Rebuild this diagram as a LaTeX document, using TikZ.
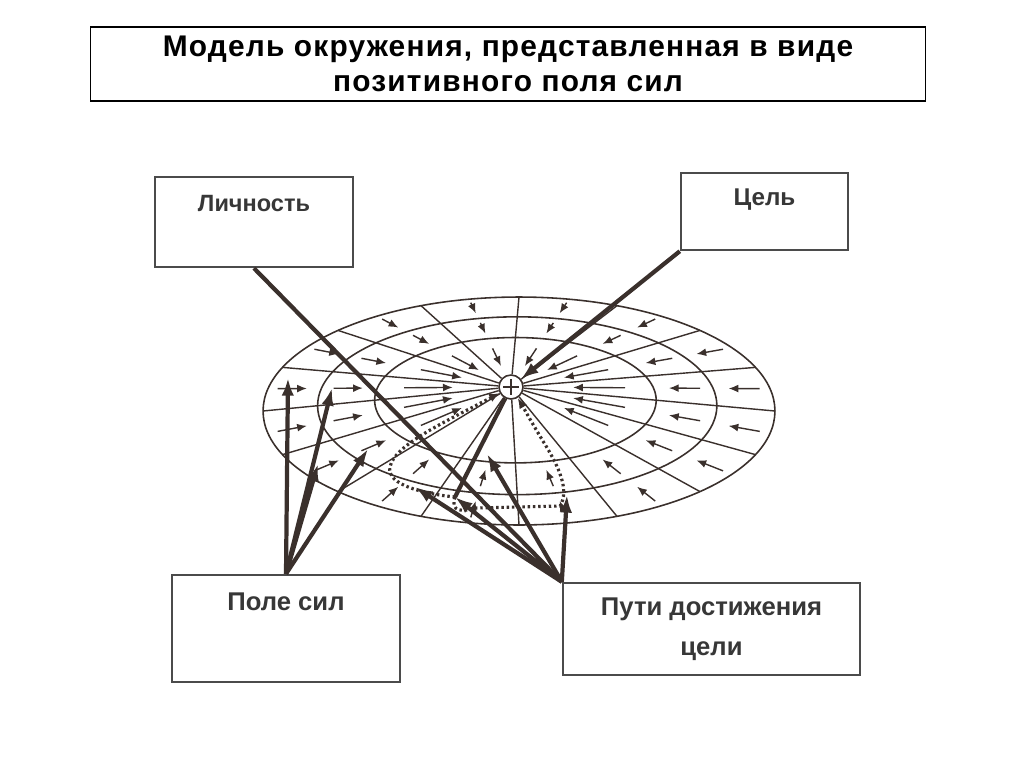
\documentclass[tikz,border=0pt]{standalone}
\usepackage{fontspec}
\setmainfont{Liberation Sans}
\newfontfamily\titlefont[LetterSpace=4]{Liberation Sans}
\usepackage{xcolor}
\definecolor{InkBrown}{RGB}{58,48,44}
\definecolor{BoxGray}{RGB}{75,75,75}
\definecolor{TextGray}{RGB}{55,55,55}
\usepackage{tikz}
\usetikzlibrary{arrows.meta, positioning, calc}
\tikzset{
  % Title frame
  titlebox/.style={
    rectangle, draw=black, line width=0.6pt, fill=white,
    minimum width=16.72cm, minimum height=1.48cm,
    align=center, inner sep=0pt,
    font=\titlefont\fontsize{17}{20}\selectfont\bfseries
  },
  % Label boxes
  lbox/.style={
    rectangle, draw=BoxGray, line width=1.4pt, fill=white,
    align=center, inner sep=0pt, text=TextGray,
    font=\fontsize{14.6}{22.7}\selectfont\bfseries
  },
  % Field of forces
  ring/.style={draw=InkBrown, line width=0.9pt},
  ray/.style={draw=InkBrown, line width=0.8pt},
  farr/.style={-{Latex[length=5.5pt,width=4.5pt]}, InkBrown, line width=0.8pt},
  dotpath/.style={InkBrown, line width=1.8pt, dash pattern=on 1.4pt off 1.6pt},
  % Connectors
  thk/.style={InkBrown, line width=2.4pt},
  tarr/.style={-{Latex[length=10pt,width=7pt]}, InkBrown, line width=2.4pt},
}

\begin{document}
\begin{tikzpicture}[x=0.02cm, y=-0.02cm]
  \useasboundingbox (0,0) rectangle (1024,768);

  \node[titlebox] (title) at (508,64)
    {Модель окружения, представленная в виде\\позитивного поля сил};

  \node[lbox, minimum width=3.96cm, minimum height=1.8cm,
        font=\fontsize{13.4}{22.7}\selectfont\bfseries,
        text height=0.34cm, text depth=0.78cm] (lich) at (254,222) {Личность};
  \node[lbox, minimum width=3.34cm, minimum height=1.54cm,
        font=\fontsize{13.8}{22.7}\selectfont\bfseries,
        text height=0.35cm, text depth=0.61cm] (tsel) at (764.5,211.5) {Цель};
  \node[lbox, minimum width=4.56cm, minimum height=2.14cm,
        text height=0.37cm, text depth=1.11cm] (pole) at (286,628.5) {Поле сил};
  \node[lbox, minimum width=5.94cm, minimum height=1.84cm]
    (puti) at (711.5,629) {Пути достижения\\цели};

  %% Field
  \node[circle, draw=InkBrown, line width=0.9pt, fill=white,
        minimum size=0.48cm, inner sep=0pt] (ctr) at (511,387) {};
  \draw[ray] ($(ctr)+(-8,0)$) -- ($(ctr)+(8,0)$);
  \draw[ray] ($(ctr)+(0,-8)$) -- ($(ctr)+(0,8)$);

  \foreach \s in {1,0.78,0.55}
    \draw[ring] ({511+8*\s},{387+24*\s})
      ellipse [x radius={5.12cm*\s}, y radius={2.28cm*\s}];

  \foreach \t in {0,22.5,...,337.5}
    \draw[ray] (ctr) -- ({519+256*cos(\t)},{411+114*sin(\t)});

  \foreach \m in {11.25,33.75,...,348.75} {
    \draw[farr] ({511+0.96*(8+256*cos(\m))},{387+0.96*(24+114*sin(\m))})
             -- ({511+0.84*(8+256*cos(\m))},{387+0.84*(24+114*sin(\m))});
    \draw[farr] ({511+0.73*(8+256*cos(\m))},{387+0.73*(24+114*sin(\m))})
             -- ({511+0.61*(8+256*cos(\m))},{387+0.61*(24+114*sin(\m))});
  }
  \foreach \m in {11.25,33.75,146.25,168.75,191.25,213.75,236.25,
                  258.75,281.25,303.75,326.25,348.75}
    \draw[farr] ({511+0.44*(8+256*cos(\m))},{387+0.44*(24+114*sin(\m))})
             -- ({511+0.24*(8+256*cos(\m))},{387+0.24*(24+114*sin(\m))});

  \coordinate (pers) at (455,497);

  %% Paths
  \draw[dotpath, -{Latex[length=6pt,width=5pt]}] (pers)
    .. controls (425,494) and (386,485) .. (390,467)
    .. controls (394,445) and (445,422) .. (ctr);
  \draw[dotpath, -{Latex[length=6pt,width=5pt]}] (pers)
    .. controls (450,512) and (462,512) .. (476,508) -- (560,506)
    .. controls (570,490) and (558,466) .. (546,446)
    .. controls (533,425) and (522,405) .. (ctr);

  %% Connectors
  \draw[thk] (lich.south) -- (puti.north west);
  \draw[tarr] (tsel.south west) -- (ctr);
  \draw[thk] (pers) -- (ctr);

  \draw[tarr] (pole.north) -- (288,378);
  \draw[tarr] (pole.north) -- (332,388);
  \draw[tarr] (pole.north) -- (318,464);
  \draw[tarr] (pole.north) -- (368,449);

  \draw[tarr] (puti.north west) -- (415,487);
  \draw[tarr] (puti.north west) -- (pers);
  \draw[tarr] (puti.north west) -- (487,454);
  \draw[tarr] (puti.north west) -- (567,495);

\end{tikzpicture}
\end{document}
